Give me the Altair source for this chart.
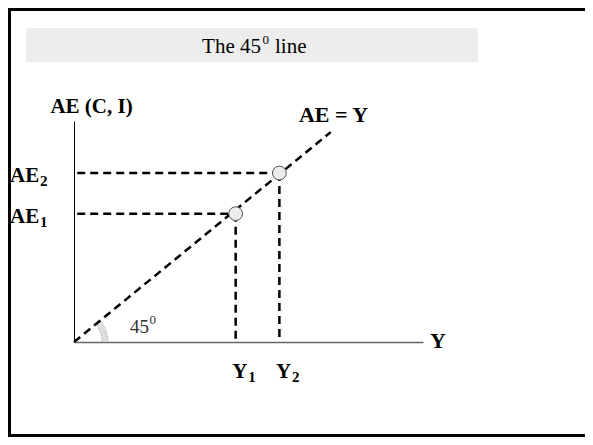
import altair as alt
import pandas as pd

# ---- values ----
Y_NAMES = ["Y", "Y"]
Y_SUBS = ["1", "2"]
Y_VALUES = [4.03, 5.12]          # Y1, Y2 on the horizontal axis
AE_NAMES = ["AE", "AE"]
AE_SUBS = ["1", "2"]
AE_VALUES = [3.92, 5.16]         # AE1, AE2 on the vertical axis
LINE_START = [0.0, 0.0]          # 45 degree line start (x, y)
LINE_END = [6.4, 6.41]           # 45 degree line end (x, y)
X_MAX = 8.7
Y_MAX = 6.75
H_LINE_START = 0.08

W, H = 349, 221
FONT = "Liberation Serif"

xs = alt.Scale(domain=[0, X_MAX], nice=False, zero=True)
ys = alt.Scale(domain=[0, Y_MAX], nice=False, zero=True)
x_axis = alt.Axis(domain=True, domainColor="#666666", domainWidth=1.3, ticks=False,
                  labels=False, grid=False)
y_axis = alt.Axis(domain=True, domainColor="#000000", domainWidth=1, ticks=False,
                  labels=False, grid=False)

pts = pd.DataFrame({"y": Y_VALUES, "ae": AE_VALUES, "yname": Y_NAMES, "ysub": Y_SUBS,
                    "aename": AE_NAMES, "aesub": AE_SUBS, "x0": [H_LINE_START] * 2,
                    "zero": [0.0, 0.0]})
diag = pd.DataFrame({"x": [LINE_START[0], LINE_END[0]], "yv": [LINE_START[1], LINE_END[1]]})
one = pd.DataFrame({"a": [0]})

DASH = [8, 5]
DW = 2.5

# frame (left, top, bottom edges as filled bars) and title box (decoration)
fl = alt.Chart(one).mark_rect(fill="black").encode(
    x=alt.value(-66), x2=alt.value(-63), y=alt.value(-113), y2=alt.value(316))
ft = alt.Chart(one).mark_rect(fill="black").encode(
    x=alt.value(-66), x2=alt.value(520), y=alt.value(-113), y2=alt.value(-110))
fb = alt.Chart(one).mark_rect(fill="black").encode(
    x=alt.value(-66), x2=alt.value(520), y=alt.value(313), y2=alt.value(316))
tbox = alt.Chart(one).mark_rect(fill="#ededed").encode(
    x=alt.value(-48), x2=alt.value(404), y=alt.value(-93), y2=alt.value(-59))
t1 = alt.Chart(one).mark_text(text="The 45", font=FONT, fontSize=21, align="right",
                              baseline="alphabetic", color="black").encode(
    x=alt.value(187), y=alt.value(-68))
t2 = alt.Chart(one).mark_text(text="0", font=FONT, fontSize=13, align="left",
                              baseline="alphabetic", color="black").encode(
    x=alt.value(188.5), y=alt.value(-77))
t3 = alt.Chart(one).mark_text(text="line", font=FONT, fontSize=21, align="left",
                              baseline="alphabetic", color="black").encode(
    x=alt.value(201), y=alt.value(-68))

# axes (drawn by the library's axes)
axes = alt.Chart(diag).mark_point(opacity=0).encode(
    x=alt.X("x:Q", scale=xs, axis=x_axis, title=None),
    y=alt.Y("yv:Q", scale=ys, axis=y_axis, title=None))

# angle marker
arc = alt.Chart(one).mark_arc(radius=34, radius2=28, theta=0.887, theta2=1.5708,
                              fill="#dedede", stroke="#888888", strokeDash=[1, 1.5],
                              strokeWidth=0.8).encode(
    x=alt.X(datum=0, scale=xs, title=None), y=alt.Y(datum=0, scale=ys, title=None))

line45 = alt.Chart(diag).mark_line(color="black", strokeDash=DASH, strokeWidth=DW).encode(
    x=alt.X("x:Q", scale=xs, title=None), y=alt.Y("yv:Q", scale=ys, title=None))

hlines = alt.Chart(pts).mark_rule(color="black", strokeDash=DASH, strokeWidth=DW).encode(
    x=alt.X("x0:Q", scale=xs, title=None), x2="y:Q",
    y=alt.Y("ae:Q", scale=ys, title=None))
vlines = alt.Chart(pts).mark_rule(color="black", strokeDash=DASH, strokeWidth=DW).encode(
    x=alt.X("y:Q", scale=xs, title=None),
    y=alt.Y("ae:Q", scale=ys, title=None), y2="zero:Q")

circles = alt.Chart(pts).mark_point(filled=True, fill="#ececec", stroke="#555555",
                                    strokeWidth=1, size=190, opacity=1,
                                    shape="circle").encode(
    x=alt.X("y:Q", scale=xs, title=None), y=alt.Y("ae:Q", scale=ys, title=None))

# labels
ylab = alt.Chart(pts).mark_text(font=FONT, fontSize=21, fontWeight="bold", align="left",
                                baseline="alphabetic", dx=-3.5, color="black").encode(
    x=alt.X("y:Q", scale=xs, title=None), y=alt.value(257), text="yname:N")
ysub = alt.Chart(pts).mark_text(font=FONT, fontSize=15, fontWeight="bold", align="left",
                                baseline="alphabetic", dx=12.5, color="black").encode(
    x=alt.X("y:Q", scale=xs, title=None), y=alt.value(261), text="ysub:N")
aelab = alt.Chart(pts).mark_text(font=FONT, fontSize=21, fontWeight="bold", align="left",
                                 baseline="alphabetic", dy=9, color="black").encode(
    x=alt.value(-64), y=alt.Y("ae:Q", scale=ys, title=None), text="aename:N")
aesub = alt.Chart(pts).mark_text(font=FONT, fontSize=15, fontWeight="bold", align="left",
                                 baseline="alphabetic", dy=13, color="black").encode(
    x=alt.value(-34), y=alt.Y("ae:Q", scale=ys, title=None), text="aesub:N")

ae_axis_title = alt.Chart(one).mark_text(text="AE (C, I)", font=FONT, fontSize=21,
                                         fontWeight="bold", align="center",
                                         baseline="alphabetic", color="black").encode(
    x=alt.value(17.5), y=alt.value(-8))
y_axis_title = alt.Chart(one).mark_text(text="Y", font=FONT, fontSize=22, fontWeight="bold",
                                        align="left", baseline="alphabetic",
                                        color="black").encode(
    x=alt.value(356), y=alt.value(227))
line_label = alt.Chart(one).mark_text(text="AE = Y", font=FONT, fontSize=22,
                                      fontWeight="bold", align="center",
                                      baseline="alphabetic", color="black").encode(
    x=alt.value(259.5), y=alt.value(0.5))
ang1 = alt.Chart(one).mark_text(text="45", font=FONT, fontSize=19, align="left",
                                baseline="alphabetic", color="#333333").encode(
    x=alt.value(56), y=alt.value(212))
ang2 = alt.Chart(one).mark_text(text="0", font=FONT, fontSize=13, align="left",
                                baseline="alphabetic", color="#333333").encode(
    x=alt.value(75.5), y=alt.value(203))

chart = alt.layer(
    fl, ft, fb, tbox, t1, t2, t3, axes, arc, line45, hlines, vlines, circles,
    ylab, ysub, aelab, aesub, ae_axis_title, y_axis_title, line_label, ang1, ang2
).properties(
    width=W, height=H,
    padding={"left": 66, "top": 113, "right": 162, "bottom": 95},
    autosize=alt.AutoSizeParams(type="none"),
    background="white",
).configure_view(stroke="transparent")

chart.save("out.html", embed_options={"renderer": "svg", "actions": False})
